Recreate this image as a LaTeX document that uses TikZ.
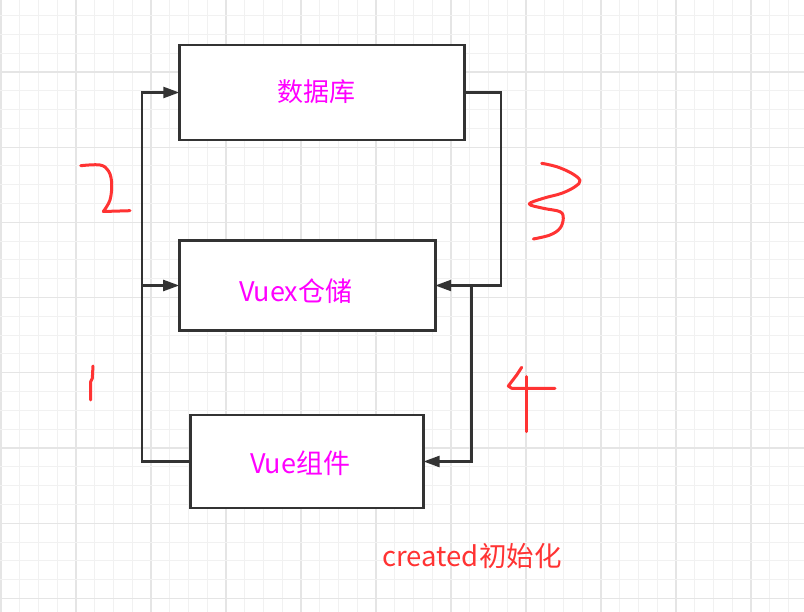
\documentclass[tikz,border=0pt]{standalone}
\usepackage{fontspec}
\newfontfamily\cjk{Noto Sans CJK SC}
\usetikzlibrary{arrows.meta,calc}
\definecolor{gridminor}{HTML}{F1F1F1}
\definecolor{gridmajor}{HTML}{E5E5E5}
\definecolor{boxline}{HTML}{333333}
\definecolor{mag}{HTML}{FF00FF}
\definecolor{hred}{HTML}{FF3333}
\tikzset{
  box/.style={draw=boxline, line width=2.6pt, fill=white, inner sep=0pt, outer sep=0pt},
  lbl/.style={text=mag, font=\cjk\fontsize{27}{32}\selectfont, inner sep=0pt},
  conn/.style={draw=boxline, line width=2.3pt},
  arr/.style={conn, -{Triangle[length=16pt,width=11pt]}},
  hand/.style={draw=hred, line width=3pt, line cap=round, line join=round},
}
\begin{document}
\begin{tikzpicture}[x=1pt,y=-1pt]
\useasboundingbox (0,0) rectangle (804,612);
\fill[white] (0,0) rectangle (804,612);
% grid
\foreach \k in {0,...,42} {
  \pgfmathtruncatemacro{\m}{mod(\k,4)}
  \ifnum\m=0
    \draw[gridmajor, line width=1.2pt] ({1+18.75*\k},0) -- ({1+18.75*\k},612);
  \else
    \draw[gridminor, line width=1pt] ({1+18.75*\k},0) -- ({1+18.75*\k},612);
  \fi
}
\foreach \k in {1,...,32} {
  \pgfmathtruncatemacro{\m}{mod(\k,4)}
  \ifnum\m=0
    \draw[gridmajor, line width=1.2pt] (0,{-3.2+18.8*\k}) -- (804,{-3.2+18.8*\k});
  \else
    \draw[gridminor, line width=1pt] (0,{-3.2+18.8*\k}) -- (804,{-3.2+18.8*\k});
  \fi
}
% boxes
\node[box, minimum width=285pt, minimum height=95pt] (b1) at (321.8,92.5) {};
\node[box, minimum width=256pt, minimum height=90pt] (b2) at (307.2,285.5) {};
\node[box, minimum width=233pt, minimum height=93pt] (b3) at (307,461.5) {};
\node[lbl, font=\cjk\fontsize{26}{31}\selectfont] (t1) at (316.2,92) {数据库};
\node[lbl] (t2) at (295.7,291) {Vuex仓储};
\node[lbl] (t3) at (300,463.5) {Vue组件};
% connectors
\coordinate (lb) at (142,461.5);
\coordinate (lt) at (142,92.5);
\coordinate (rt) at (501,92.5);
\coordinate (rj) at (471.5,285.5);
\draw[arr] (b3.west) -- (lb) -- (lt) -- (b1.west);
\draw[arr] (lb |- b2.west) -- (b2.west);
\draw[arr] (b1.east) -- (rt) |- (b2.east);
\draw[arr] (rj) |- (b3.east);
% hand-drawn numbers
\draw[hand] plot[smooth, tension=0.6] coordinates {(80.7,165.7) (100,165) (108.5,171) (111.7,183.3) (110,200) (103.3,211.5)} -- (130,210.7);
\draw[hand] plot[smooth, tension=0.6] coordinates {(541.7,163.3) (556.7,166.7) (571.7,173.3) (580,180.5) (575,186.7) (561.7,193.3) (543.3,198.3) (529.3,204) (543.3,208.3) (560,211.7) (563.3,218.3) (560,228.3) (550,235) (533.3,239)};
\draw[hand] (93,366) -- (92.3,378.3) -- (90.7,381.7) -- (90.7,400);
\draw[hand] (521.7,367.3) -- (516.7,375) -- (508.3,386) -- (511.7,388.3) -- (555,388.3);
\draw[hand] (526.7,376.7) -- (526.7,431.7);
% bottom note
\node[text=hred, font=\cjk\fontsize{27.5}{32}\selectfont, inner sep=0pt] (note) at (472,556) {created初始化};
\end{tikzpicture}
\end{document}
